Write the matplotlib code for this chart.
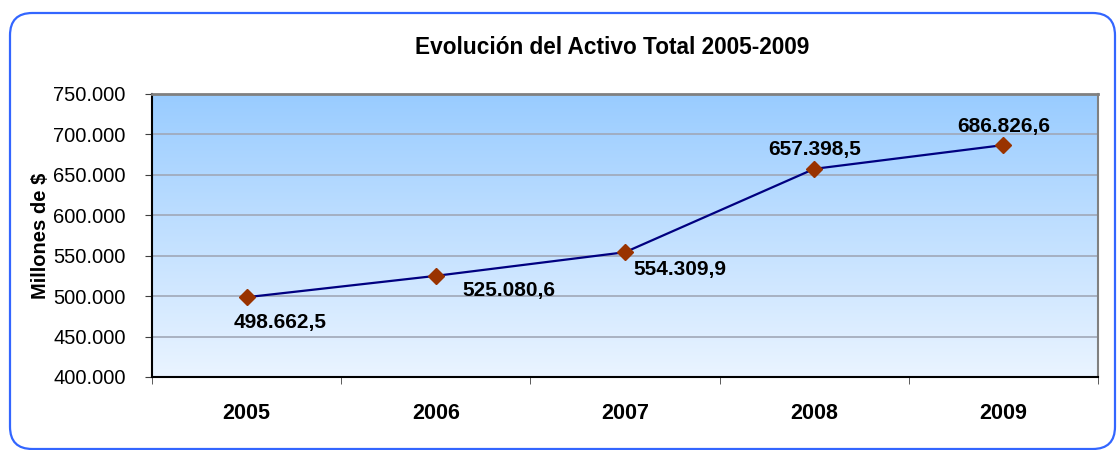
import numpy as np
import matplotlib
matplotlib.use("Agg")
import matplotlib.pyplot as plt
from matplotlib.patches import FancyBboxPatch
from matplotlib.ticker import FuncFormatter

# ---------- datos ----------
anios = ["2005", "2006", "2007", "2008", "2009"]
activo = [498662.5, 525080.6, 554309.9, 657398.5, 686826.6]
# desplazamiento de cada etiqueta (pixeles)
offsets = [(34, -25), (73, -15), (55, -17), (0, 19), (0, 19)]

plt.rcParams['font.family'] = ['Liberation Sans', 'DejaVu Sans']


def fmt_es(v, dec=0):
    s = f"{v:,.{dec}f}"
    return s.replace(",", "X").replace(".", ",").replace("X", ".")


fig = plt.figure(figsize=(11.17, 4.5), dpi=100)

# marco redondeado
W, H = 1117, 450
marco = FancyBboxPatch((10 / W, 1 / H), 1105 / W, 436 / H,
                       boxstyle="round,pad=0,rounding_size=0.02",
                       transform=fig.transFigure, fc='none',
                       ec='#3366ff', lw=1.6, clip_on=False,
                       mutation_aspect=W / H)
fig.patches.append(marco)

ax = fig.add_axes([152 / W, 73 / H, 946 / W, 283 / H])
x = np.arange(len(anios))

# fondo degradado
grad = np.linspace(0, 1, 256).reshape(-1, 1)
cmap = matplotlib.colors.LinearSegmentedColormap.from_list(
    "fondo", ["#eaf4ff", "#99ccff"])
ax.imshow(grad, extent=[-0.5, 4.5, 400000, 750000], origin='lower',
          aspect='auto', cmap=cmap, zorder=0)

ax.set_xlim(-0.5, 4.5)
ax.set_ylim(400000, 750000)
ax.set_yticks(np.arange(400000, 750001, 50000))
ax.yaxis.set_major_formatter(FuncFormatter(lambda v, p: fmt_es(v)))
ax.grid(axis='y', color='#a0a8b8', lw=1.2, zorder=1)

ax.plot(x, activo, color='#000080', lw=1.6, zorder=3)
ax.plot(x, activo, ls='none', marker='D', ms=8, mfc='#993300',
        mec='#993300', zorder=4)

for xi, v, (dx, dy) in zip(x, activo, offsets):
    ax.annotate(fmt_es(v, 1), (xi, v), xytext=(dx, dy),
                textcoords='offset pixels', ha='center', va='center',
                fontsize=15, fontweight='bold', zorder=5)

ax.set_xticks(x)
ax.set_xticklabels(anios, fontsize=15.5, fontweight='bold')
ax.set_xticks(np.arange(-0.5, 5, 1), minor=True)
ax.tick_params(axis='x', which='major', length=0, pad=19)
ax.tick_params(axis='x', which='minor', length=5, color='#404040')
ax.tick_params(axis='y', length=5, pad=14, labelsize=14.5, color='#404040')

for s in ['left', 'bottom']:
    ax.spines[s].set_color('black')
    ax.spines[s].set_linewidth(1.5)
ax.spines['top'].set_color('#808080')
ax.spines['top'].set_linewidth(2)
ax.spines['right'].set_color('#808080')
ax.spines['right'].set_linewidth(1.5)

ax.set_ylabel("Millones de $", fontsize=14.5, fontweight='bold')
ax.yaxis.set_label_coords(-0.108, 0.5)

fig.text(612 / W, 1 - 47 / H, "Evolución del Activo Total 2005-2009",
         ha='center', va='center', fontsize=16.3, fontweight='bold')

fig.savefig("out.png", dpi=100)
